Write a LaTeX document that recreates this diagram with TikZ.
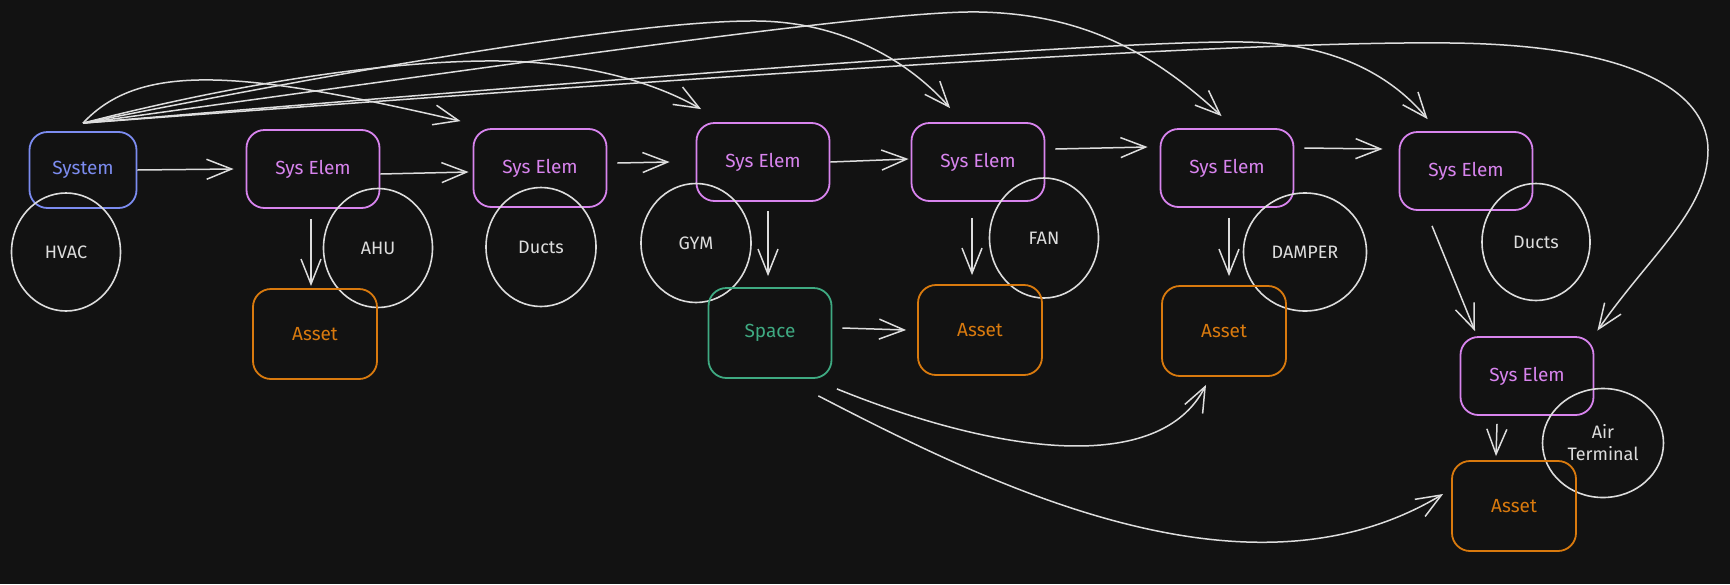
\documentclass[tikz,border=0pt]{standalone}
\usepackage{fontspec}
\setmainfont{Fira Sans}
\usetikzlibrary{arrows.meta,shapes.geometric}
\definecolor{bg}{HTML}{121212}
\definecolor{cblue}{HTML}{7C8CF0}
\definecolor{cpurp}{HTML}{D884EE}
\definecolor{corange}{HTML}{D97A0E}
\definecolor{cgreen}{HTML}{3FAA82}
\definecolor{cline}{HTML}{DDDDDD}
\begin{document}
\begin{tikzpicture}[x=0.5pt,y=-0.5pt,
  lbl/.style={font=\fontsize{9.5}{11}\selectfont},
  box/.style={lbl,rectangle,rounded corners=9pt,line width=0.9pt,inner sep=0pt},
  sysbox/.style={box,draw=cblue,text=cblue,minimum width=53.5pt,minimum height=38pt},
  elbox/.style={box,draw=cpurp,text=cpurp,minimum width=66.5pt,minimum height=39pt},
  assetbox/.style={box,draw=corange,text=corange,minimum width=62pt,minimum height=45pt},
  spacebox/.style={box,draw=cgreen,text=cgreen,minimum width=61.5pt,minimum height=45pt},
  circ/.style={font=\fontsize{9}{11}\selectfont,ellipse,draw=cline,text=cline,line width=0.8pt,inner sep=0pt,align=center},
  arr/.style={draw=cline,line width=0.75pt,-{Straight Barb[length=12.5pt,width=10pt,line width=0.75pt]}}
]
\useasboundingbox (0,0) rectangle (1730,584);
\fill[bg] (0,0) rectangle (1730,584);

% nodes
\node[sysbox] (sys) at (83,170) {System};
\node[circ,minimum width=54.5pt,minimum height=59pt] (hvac) at (66,252) {HVAC};
\node[elbox] (se1) at (313,169) {Sys Elem};
\node[circ,minimum width=54.5pt,minimum height=59.5pt] (ahu) at (378,248) {AHU};
\node[assetbox] (as1) at (315,334) {Asset};
\node[elbox] (se2) at (540,168) {Sys Elem};
\node[circ,minimum width=55pt,minimum height=59.5pt] (ducts1) at (541,247) {Ducts};
\node[elbox] (se3) at (763,162) {Sys Elem};
\node[circ,minimum width=55pt,minimum height=59.5pt] (gym) at (696,243) {GYM};
\node[spacebox] (space) at (770,333) {Space};
\node[elbox] (se4) at (978,162) {Sys Elem};
\node[circ,minimum width=54.5pt,minimum height=60pt] (fan) at (1044,238) {FAN};
\node[assetbox] (as2) at (980,330) {Asset};
\node[elbox] (se5) at (1227,168) {Sys Elem};
\node[circ,minimum width=61.5pt,minimum height=59pt] (damper) at (1305,252) {DAMPER};
\node[assetbox] (as3) at (1224,331) {Asset};
\node[elbox] (se6) at (1466,171) {Sys Elem};
\node[circ,minimum width=54pt,minimum height=58.5pt] (ducts2) at (1536,242) {Ducts};
\node[elbox] (se7) at (1527,376) {Sys Elem};
\node[circ,minimum width=60.5pt,minimum height=54.5pt] (airt) at (1603,443) {Air\\Terminal};
\node[assetbox] (as4) at (1514,506) {Asset};

% straight connectors
\draw[arr] (sys.east) -- ([xshift=-6pt]se1.west);
\draw[arr] ([yshift=-2.5pt]se1.east) -- ([xshift=-2pt,yshift=-2pt]se2.west);
\draw[arr] ([xshift=5pt,yshift=2.5pt]se2.east) -- ([xshift=-13pt]se3.west);
\draw[arr] (se3.east) -- ([xshift=-1pt,yshift=1.5pt]se4.west);
\draw[arr] ([xshift=5pt,yshift=6.5pt]se4.east) -- ([xshift=-6pt,yshift=10.5pt]se5.west);
\draw[arr] ([xshift=5pt,yshift=10pt]se5.east) -- ([xshift=-8pt,yshift=11pt]se6.west);
\draw[arr] ([xshift=-17pt,yshift=-7.5pt]se6.south) -- ([xshift=-26pt,yshift=2.5pt]se7.north);
\draw[arr] ([xshift=-15pt,yshift=-4pt]se7.south) -- ([xshift=-9pt,yshift=2pt]as4.north);
\draw[arr] ([xshift=-1pt,yshift=-5pt]se1.south) -- ([xshift=-2pt,yshift=1pt]as1.north);
\draw[arr] ([xshift=2.5pt,yshift=-4.5pt]se3.south) -- ([xshift=-1pt,yshift=5.5pt]space.north);
\draw[arr] ([xshift=-3pt,yshift=-8pt]se4.south) -- ([xshift=-4pt,yshift=4.5pt]as2.north);
\draw[arr] ([xshift=1pt,yshift=-5pt]se5.south) -- ([xshift=2.5pt,yshift=4.5pt]as3.north);
\draw[arr] ([xshift=5pt,yshift=2.5pt]space.east) -- ([xshift=-5.5pt]as2.west);

% curved connectors from the System hub
\coordinate (hub) at ([yshift=4pt]sys.north);
\coordinate (c1e) at ([xshift=-6pt,yshift=3.5pt]se2.north west);
\coordinate (c2e) at ([xshift=2.75pt,yshift=6.5pt]se3.north west);
\coordinate (c3e) at ([xshift=19.75pt,yshift=7pt]se4.north west);
\coordinate (c4e) at ([xshift=31pt,yshift=6pt]se5.north west);
\coordinate (c5e) at ([xshift=14.5pt,yshift=6pt]se6.north west);
\coordinate (c6e) at ([xshift=1.5pt,yshift=2.75pt]se7.north east);

\draw[arr] (hub) .. controls (140,62) and (240,70) .. (c1e);
\draw[arr] (hub) .. controls (250,80) and (400,60) .. (499,61) .. controls (580,62) and (650,80) .. (c2e);
\draw[arr] (hub) .. controls (400,60) and (650,20) .. (757,21) .. controls (850,22) and (915,68) .. (c3e);
\draw[arr] (hub) .. controls (500,66) and (880,10) .. (979,12) .. controls (1080,14) and (1150,50) .. (c4e);
\draw[arr] (hub) .. controls (500,88) and (1100,40) .. (1243,42) .. controls (1340,43) and (1395,80) .. (c5e);
\draw[arr] (hub) .. controls (500,92) and (1200,40) .. (1450,43) .. controls (1650,45) and (1708,100) .. (1708,150) .. controls (1708,210) and (1650,255) .. (c6e);

% curved connectors from Space
\coordinate (c7s) at ([xshift=2.25pt,yshift=-5pt]space.south east);
\coordinate (c7e) at ([xshift=-9pt,yshift=-4pt]as3.south);
\coordinate (c8s) at ([xshift=-7pt,yshift=-8.5pt]space.south east);
\coordinate (c8e) at ([xshift=-4pt,yshift=6pt]as4.west);
\draw[arr] (c7s) .. controls (1000,455) and (1160,475) .. (c7e);
\draw[arr] (c8s) .. controls (1000,490) and (1250,610) .. (c8e);
\end{tikzpicture}
\end{document}
